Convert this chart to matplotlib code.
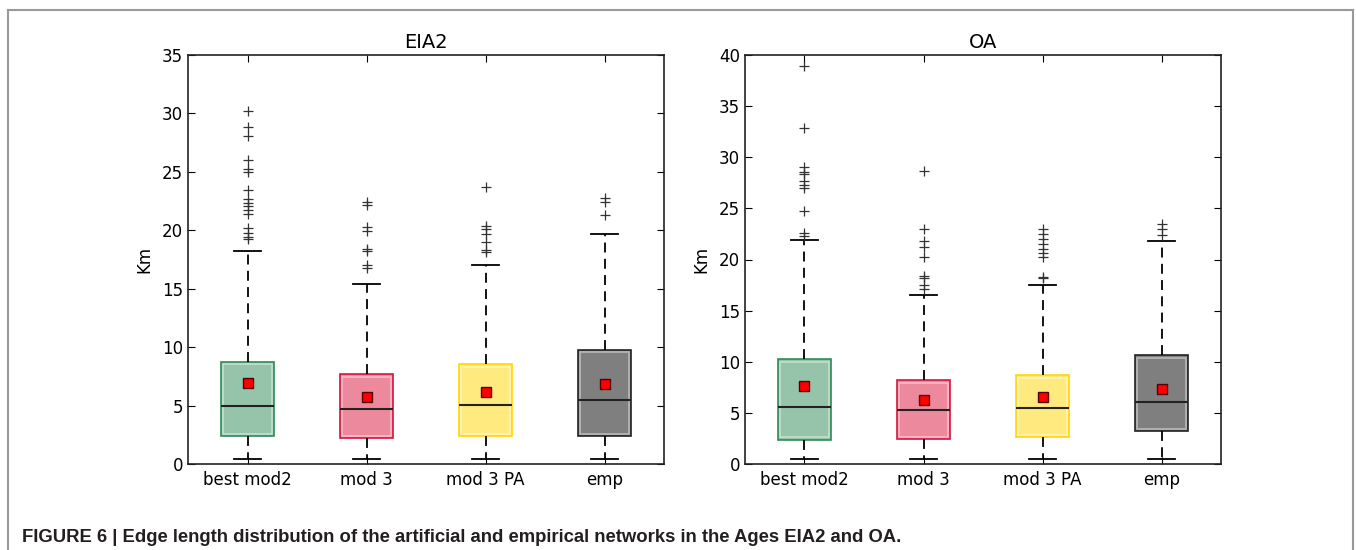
import matplotlib
matplotlib.use("Agg")
import matplotlib.pyplot as plt
from matplotlib.lines import Line2D

categories = ["best mod2", "mod 3", "mod 3 PA", "emp"]
box_colors = ["#2e8b57", "#dc143c", "#ffd700", "#000000"]

# EIA2 panel summary statistics (km)
eia2_whislo = [0.43, 0.43, 0.43, 0.43]
eia2_q1 = [2.37, 2.19, 2.37, 2.37]
eia2_med = [4.99, 4.73, 5.07, 5.44]
eia2_q3 = [8.75, 7.69, 8.55, 9.77]
eia2_whishi = [18.27, 15.39, 17.04, 19.66]
eia2_mean = [6.90, 5.76, 6.13, 6.81]
eia2_fliers = [
    [30.24, 28.87, 28.04, 26.05, 25.25, 24.96, 23.43, 22.66, 22.37, 22.09,
     21.72, 21.37, 20.2, 19.8, 19.46, 19.27],
    [22.43, 22.17, 20.32, 19.95, 18.38, 18.21, 17.04, 16.76],
    [23.68, 20.38, 20.09, 19.72, 18.98, 18.32, 18.12],
    [22.74, 22.4, 21.29],
]

# OA panel summary statistics (km)
oa_whislo = [0.49, 0.49, 0.49, 0.49]
oa_q1 = [2.37, 2.44, 2.60, 3.18]
oa_med = [5.58, 5.29, 5.49, 6.07]
oa_q3 = [10.26, 8.18, 8.67, 10.65]
oa_whishi = [21.95, 16.56, 17.47, 21.79]
oa_mean = [7.66, 6.30, 6.59, 7.37]
oa_fliers = [
    [38.96, 32.9, 29.03, 28.57, 28.34, 27.69, 27.27, 27.01, 24.77, 22.56, 22.3],
    [28.67, 22.95, 21.82, 21.27, 20.23, 18.41, 18.18, 17.53, 17.11],
    [22.99, 22.47, 22.01, 21.53, 21.04, 20.62, 20.23, 18.28, 18.18],
    [23.47, 22.95, 22.4],
]

panels = [
    ("EIA2", 35, 5, eia2_whislo, eia2_q1, eia2_med, eia2_q3, eia2_whishi, eia2_mean, eia2_fliers),
    ("OA", 40, 5, oa_whislo, oa_q1, oa_med, oa_q3, oa_whishi, oa_mean, oa_fliers),
]

plt.rcParams["font.family"] = ["DejaVu Sans"]

fig = plt.figure(figsize=(13.56, 5.5), dpi=100)
axes_rects = [
    [188 / 1356, 1 - 464 / 550, 476 / 1356, 409 / 550],
    [745 / 1356, 1 - 464 / 550, 476 / 1356, 409 / 550],
]

W = 0.45
for rect, (title, ymax, ystep, wlo, q1, med, q3, whi, mean, fl) in zip(axes_rects, panels):
    ax = fig.add_axes(rect)
    stats = []
    for i in range(len(categories)):
        stats.append(dict(label=categories[i], whislo=wlo[i], q1=q1[i], med=med[i],
                          q3=q3[i], whishi=whi[i], mean=mean[i], fliers=fl[i]))
    positions = list(range(1, len(categories) + 1))
    bp = ax.bxp(stats, positions=positions, widths=W, patch_artist=True,
                showmeans=True, showfliers=True,
                whiskerprops=dict(color="black", linewidth=1.3, linestyle=(0, (5.5, 3.5))),
                capprops=dict(color="black", linewidth=1.3),
                medianprops=dict(color="#222222", linewidth=1.5),
                meanprops=dict(marker="s", markerfacecolor="red",
                               markeredgecolor="#550000", markersize=6.5),
                flierprops=dict(marker="+", markeredgecolor="#333333",
                                markersize=6.5, markeredgewidth=0.9))
    for patch, c in zip(bp["boxes"], box_colors):
        patch.set_facecolor(matplotlib.colors.to_rgba(c, 0.5))
        patch.set_edgecolor(c if c != "#000000" else "#222222")
        patch.set_linewidth(1.2)
        patch.set_zorder(2)
    ax.set_xlim(0.5, len(categories) + 0.5)
    ax.set_ylim(0, ymax)
    # inner light outline of each box
    ppu = (rect[3] * 550) / ymax
    dy = 2.5 / ppu
    dx = 2.5 / ((rect[2] * 1356) / len(categories))
    inner = []
    for s in stats:
        inner.append(dict(label=s["label"], whislo=s["q1"] + dy, q1=s["q1"] + dy,
                          med=s["med"], q3=s["q3"] - dy, whishi=s["q3"] - dy, fliers=[]))
    ax.bxp(inner, positions=positions, widths=W - 2 * dx, patch_artist=True,
           showcaps=False, showfliers=False,
           whiskerprops=dict(linewidth=0),
           medianprops=dict(linewidth=0),
           boxprops=dict(facecolor="none", edgecolor=(1, 1, 1, 0.45), linewidth=1.2))
    ax.set_xticks(positions)
    ax.set_xticklabels(categories, fontsize=12)
    ax.set_yticks(range(0, ymax + 1, ystep))
    ax.tick_params(axis="both", direction="in", top=True, right=True, length=5,
                   labelsize=12, width=0.8)
    ax.tick_params(axis="x", pad=5)
    ax.set_ylabel("Km", fontsize=12, labelpad=6)
    ax.set_title(title, fontsize=14, pad=5)
    for sp in ax.spines.values():
        sp.set_linewidth(1.2)
        sp.set_color("#222222")

# outer figure frame
fx0, fx1, fy0 = 8 / 1356, 1353 / 1356, 1 - 10 / 550
for xs, ys in [([fx0, fx0], [0, fy0]), ([fx0, fx1], [fy0, fy0]), ([fx1, fx1], [fy0, 0])]:
    fig.add_artist(Line2D(xs, ys, transform=fig.transFigure, color="#999999", linewidth=1.5))

fig.text(22 / 1356, 1 - 542 / 550,
         "FIGURE 6 | Edge length distribution of the artificial and empirical networks in the Ages EIA2 and OA.",
         fontsize=13.3, fontweight="bold", family=["Liberation Sans", "DejaVu Sans"],
         ha="left", va="baseline", color="#231f20")

fig.savefig("out.png", dpi=100)
